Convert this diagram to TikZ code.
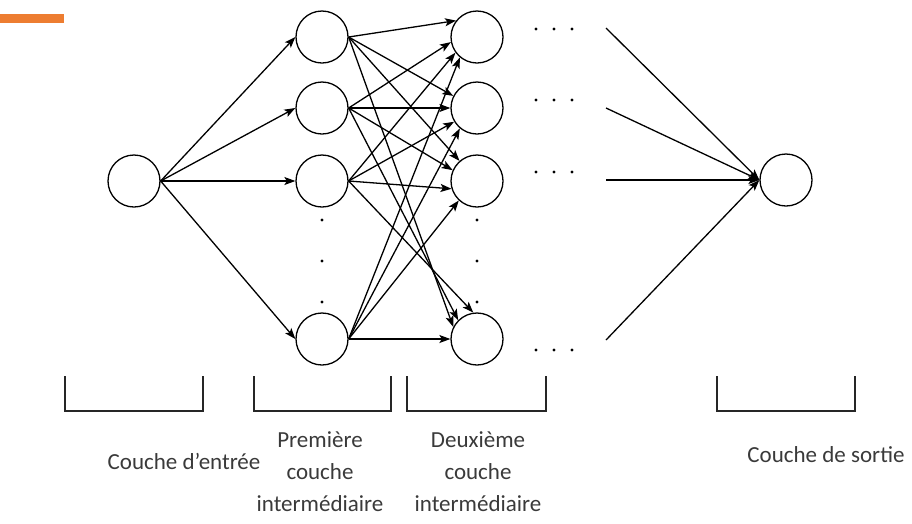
\documentclass[tikz,border=0pt]{standalone}
\usepackage{fontspec}
\setmainfont{Carlito}
\definecolor{barorange}{HTML}{ED7D31}
\definecolor{textgray}{HTML}{3A3A3A}
\usetikzlibrary{arrows.meta}

\begin{document}
\begin{tikzpicture}[x=1pt,y=-1pt,
        neuron/.style={circle,draw,line width=1.3pt,minimum size=52pt,inner sep=0pt},
        link/.style={line width=1.3pt,-{Stealth[length=11pt,width=8pt,inset=2.5pt]}},
        brace/.style={line width=1.5pt,draw=black!85},
        label/.style={text=textgray,font=\fontsize{23}{32}\selectfont,align=center}]
    \useasboundingbox (0,0) rectangle (912,523);
    \fill[barorange] (0,14) rectangle (64,23);

    % couches
    \node[neuron] (in) at (134,181) {};
    \foreach \i/\y in {1/37,2/108,3/181,4/339} {
        \node[neuron] (h1-\i) at (322,\y) {};
        \node[neuron] (h2-\i) at (477,\y) {};
    }
    \node[neuron] (out) at (786,180) {};

    % liaisons
    \foreach \i in {1,...,4}
        \draw[link] (in.east) -- (h1-\i.west);
    \foreach \i/\a/\b/\c/\d in {1/142/153/131/153, 2/191/180/156/135, 3/216/211/197/98, 4/230/230/227/180} {
        \draw[link] (h1-\i.east) -- (h2-1.\a);
        \draw[link] (h1-\i.east) -- (h2-2.\b);
        \draw[link] (h1-\i.east) -- (h2-3.\c);
        \draw[link] (h1-\i.east) -- (h2-4.\d);
    }
    \foreach \i/\y in {1/28,2/108,3/180,4/340} {
        \coordinate (o\i) at (606,\y);
        \draw[link] (o\i) -- (out.west);
    }

    % points de suspension
    \foreach \y in {29,100,172,350}
        \foreach \x in {536,554,572}
            \fill (\x,\y) circle (1.6);
    \foreach \x in {322,477}
        \foreach \y in {220,261,302}
            \fill (\x,\y) circle (1.6);

    % accolades
    \foreach \a/\b in {65/203,254/391,407/546,717/855}
        \draw[brace] (\a,376) -- (\a,411) -- (\b,411) -- (\b,376);

    \node[label] (l-in) at (184,461) {Couche d’entrée};
    \node[label] (l-h1) at (320,472) {Première\\couche\\intermédiaire};
    \node[label] (l-h2) at (478,472) {Deuxième\\couche\\intermédiaire};
    \node[label] (l-out) at (826,455) {Couche de sortie};
\end{tikzpicture}
\end{document}
